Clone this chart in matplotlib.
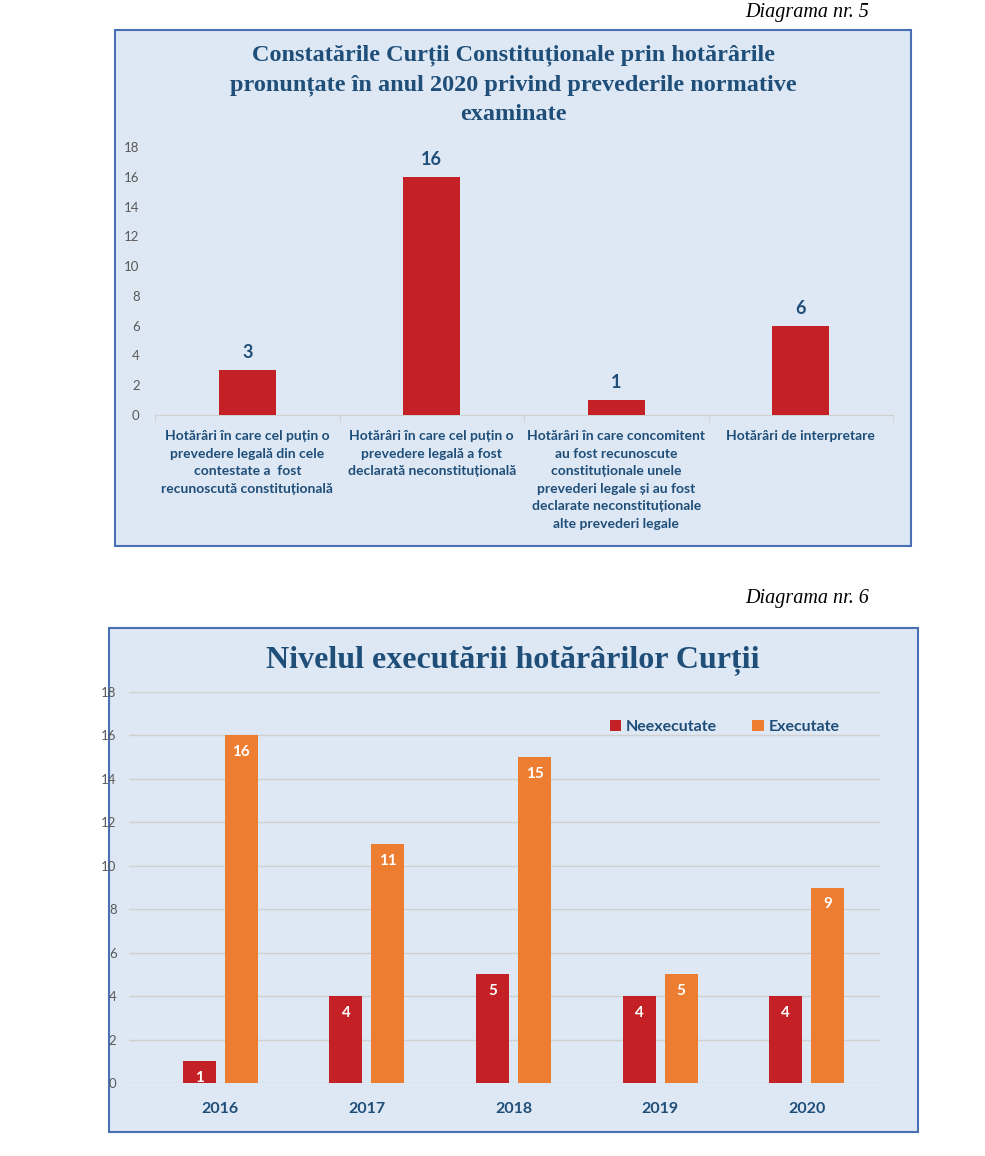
import matplotlib.pyplot as plt
import matplotlib.patches as patches
import numpy as np

# Diagrama 5
categorii = [
    "Hotărâri în care cel puțin o\nprevedere legală din cele\ncontestate a  fost\nrecunoscută constituțională",
    "Hotărâri în care cel puțin o\nprevedere legală a fost\ndeclarată neconstituțională",
    "Hotărâri în care concomitent\nau fost recunoscute\nconstituționale unele\nprevederi legale și au fost\ndeclarate neconstituționale\nalte prevederi legale",
    "Hotărâri de interpretare",
]
valori = [3, 16, 1, 6]

# Diagrama 6
ani = ["2016", "2017", "2018", "2019", "2020"]
neexecutate = [1, 4, 5, 4, 4]
executate = [16, 11, 15, 5, 9]

ROSU = "#C32126"
PORTO = "#ED7D31"
ALBASTRU = "#1F4E79"
FUNDAL = "#DDE8F4"
CHENAR = "#4A6FB5"
GRI = "#595959"
SANS = ["Lato", "DejaVu Sans"]
SERIF = ["Liberation Serif", "DejaVu Serif"]

fig = plt.figure(figsize=(9.85, 11.56), dpi=100)

def px(x, y):
    return x / 985, 1 - y / 1156

# chenare
for (x0, y0, x1, y1) in [(115, 30, 911, 546), (109, 628, 918, 1132)]:
    fx, fy = px(x0, y1)
    fig.add_artist(patches.Rectangle((fx, fy), (x1 - x0) / 985, (y1 - y0) / 1156,
                                     transform=fig.transFigure, facecolor=FUNDAL,
                                     edgecolor=CHENAR, linewidth=1.5, zorder=0))

fig.text(*px(869, 12), "Diagrama nr. 5", ha="right", va="center", style="italic",
         fontsize=14.5, family=SERIF)
fig.text(*px(869, 598), "Diagrama nr. 6", ha="right", va="center", style="italic",
         fontsize=14.5, family=SERIF)

fig.text(*px(513, 85), "Constatările Curții Constituționale prin hotărârile\n"
         "pronunțate în anul 2020 privind prevederile normative\nexaminate",
         ha="center", va="center", fontsize=17.5, fontweight="bold", color=ALBASTRU,
         family=SERIF, linespacing=1.5)

# --- grafic 1
ax1 = fig.add_axes([155 / 985, 741 / 1156, 738 / 985, 268 / 1156])
ax1.set_facecolor("none")
x = np.arange(len(valori))
bare = ax1.bar(x, valori, width=0.31, color=ROSU, zorder=3)
for b, v in zip(bare, valori):
    ax1.text(b.get_x() + b.get_width() / 2, v + 0.6, str(v), ha="center", va="bottom",
             fontsize=13, fontweight="bold", color=ALBASTRU, family=SANS)
ax1.set_xlim(-0.5, len(valori) - 0.5)
ax1.set_ylim(0, 18)
ax1.set_yticks(range(0, 19, 2))
ax1.set_xticks(x)
ax1.set_xticklabels(categorii, fontsize=10, fontweight="bold", color=ALBASTRU,
                    family=SANS, linespacing=1.55, va="top")
ax1.set_xticks(np.arange(-0.5, len(valori), 1), minor=True)
ax1.tick_params(axis="x", which="major", length=0, pad=11)
ax1.tick_params(axis="x", which="minor", length=5, color="#D0D0D0")
ax1.tick_params(axis="y", length=0, labelsize=9.5, labelcolor=GRI, pad=11)
for lab in ax1.get_yticklabels():
    lab.set_family(SANS)
for s in ["top", "right", "left"]:
    ax1.spines[s].set_visible(False)
ax1.spines["bottom"].set_color("#D0D0D0")

# --- grafic 2
fig.text(*px(513, 661), "Nivelul executării hotărârilor Curții", ha="center",
         va="center", fontsize=23, fontweight="bold", color=ALBASTRU, family=SERIF)

ax2 = fig.add_axes([129 / 985, 73 / 1156, 751 / 985, 391 / 1156])
ax2.set_facecolor("none")
x2 = np.arange(len(ani))
w = 0.225
b1 = ax2.bar(x2 - 0.143, neexecutate, width=w, color=ROSU, label="Neexecutate", zorder=3)
b2 = ax2.bar(x2 + 0.143, executate, width=w, color=PORTO, label="Executate", zorder=3)
for grup in (b1, b2):
    for b in grup:
        h = b.get_height()
        ax2.text(b.get_x() + b.get_width() / 2, h - 0.45, str(int(h)), ha="center",
                 va="top", fontsize=11, fontweight="bold", color="white", family=SANS,
                 zorder=4)
ax2.set_xlim(-0.623, 4.5)
ax2.set_ylim(0, 18)
ax2.set_yticks(range(0, 19, 2))
ax2.grid(axis="y", color="#D0D0D0", linewidth=1, zorder=0)
ax2.set_xticks(x2)
ax2.set_xticklabels(ani, fontsize=11.5, fontweight="bold", color=ALBASTRU, family=SANS)
ax2.tick_params(axis="x", length=0, pad=14)
ax2.tick_params(axis="y", length=0, labelsize=9.5, labelcolor=GRI, pad=9)
for lab in ax2.get_yticklabels():
    lab.set_family(SANS)
for s in ax2.spines.values():
    s.set_visible(False)
leg = ax2.legend(loc="upper right", bbox_to_anchor=(0.965, 0.965), ncol=2, frameon=False,
                 handlelength=0.7, handleheight=0.7, columnspacing=2.2, handletextpad=0.3,
                 prop={"family": SANS, "weight": "bold", "size": 11.5})
for t in leg.get_texts():
    t.set_color(ALBASTRU)

fig.savefig("out.png", dpi=100)
